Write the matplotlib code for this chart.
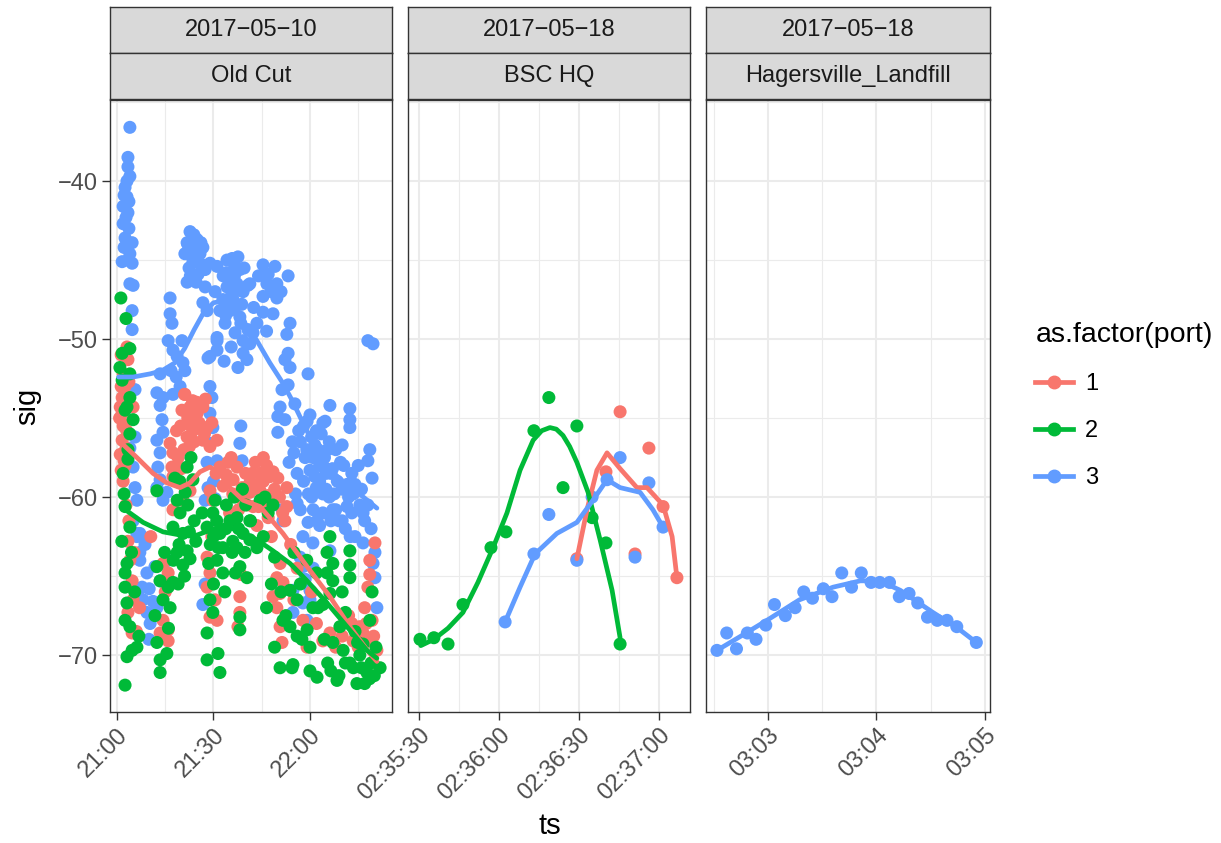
import matplotlib
matplotlib.use('Agg')
import matplotlib.pyplot as plt
from matplotlib.lines import Line2D

plt.rcParams['font.family'] = ['Liberation Sans', 'DejaVu Sans']

RED, GREEN, BLUE = '#F8766D', '#00BA38', '#619CFF'

# ---- panel 1: 2017-05-10 Old Cut, x = minutes after 21:00 ----
p1_red_t = [3.1, 3.4, 1.9, 2.5, 1.6, 3.4, 5.0, 1.0, 1.6, 2.2, 1.6, 3.0, 1.0, 2.5, 1.9, 2.8, 1.3, 3.7, 0.8, 2.2,
            3.4, 4.0, 4.7, 5.0, 3.4, 4.7, 5.3, 2.8, 3.7,
            20.2, 22.7, 24.9, 26.7, 28.0, 23.6, 21.8, 26.7, 28.9, 31.1, 16.5, 17.4, 17.1, 17.4, 19.6, 20.5, 17.4, 22.7,
            21.0, 23.5, 25.5, 22.0, 24.0, 19.0, 18.5, 27.5, 20.0, 29.5, 21.1,
            32.0, 34.5, 37.3, 36.1, 38.9, 39.2, 41.3, 28.9, 29.8, 33.0, 35.5, 40.0, 37.8, 36.5,
            44.5, 47.6, 41.3, 44.5, 42.3, 52.8, 46.0, 43.0, 45.5, 49.0, 50.5, 47.0, 43.5, 51.5,
            50.7, 49.7, 51.6, 50.7, 48.5, 49.7, 50.7, 51.3, 57.8, 59.1, 64.0, 66.2, 74.6, 76.5, 78.6, 80.8, 75.5, 73.4,
            80.2, 78.6, 78.0, 78.6, 79.3, 52.2, 52.8, 54.0, 56.0, 48.0, 60.5, 55.0, 77.0, 72.0, 70.0, 68.0, 62.0,
            28.0, 28.9, 28.0, 30.5, 31.1, 28.9, 29.5, 38.2, 38.2, 37.6, 38.5,
            14.3, 15.9, 14.3, 13.4, 15.9, 15.9, 15.0, 16.5, 7.0, 6.0, 10.5,
            21.5, 23.0, 24.8, 26.0, 27.2, 22.5, 20.8, 19.8, 43.5, 45.5, 47.0, 48.5, 42.0, 40.5, 46.5, 50.0, 44.0,
            34.0, 36.0, 35.0, 30.8, 75.0, 77.5, 79.8, 73.0, 1.3, 2.8, 1.9, 3.0, 1.3]
p1_red_sig = [-50.5, -51.3, -52.2, -53.0, -53.7, -54.1, -54.3, -54.3, -54.7, -55.4, -56.4, -55.8, -57.3, -58.0, -59.0, -56.9, -51.0, -52.7, -55.0, -57.7,
              -62.8, -64.0, -65.3, -66.5, -67.3, -68.6, -63.5, -60.5, -61.5,
              -54.5, -54.3, -54.7, -54.3, -55.6, -55.8, -56.2, -56.4, -56.8, -56.4, -56.6, -57.2, -58.1, -58.7, -59.1, -60.2, -60.8, -59.6,
              -53.5, -53.9, -55.3, -55.0, -56.5, -57.5, -55.8, -53.8, -58.2, -55.3, -53.5,
              -58.1, -57.8, -58.1, -58.9, -59.4, -60.2, -59.7, -59.6, -60.2, -59.3, -57.5, -58.5, -60.8, -61.5,
              -58.5, -58.7, -59.1, -59.6, -60.6, -59.4, -60.6, -57.8, -57.5, -59.5, -60.0, -61.3, -61.8, -61.0,
              -64.2, -65.1, -65.4, -66.1, -66.3, -67.0, -68.2, -69.2, -67.8, -69.5, -69.1, -68.6, -68.4, -68.6, -69.1, -69.7, -68.2, -69.1,
              -62.9, -64.0, -65.7, -64.9, -67.8, -61.5, -60.6, -63.0, -64.5, -62.5, -66.0, -66.5, -67.0, -67.5, -68.8, -69.5, -68.0,
              -63.8, -64.8, -65.7, -66.5, -67.8, -67.6, -62.5, -66.3, -67.3, -68.2, -64.9,
              -64.2, -64.8, -67.8, -68.6, -68.4, -69.1, -66.0, -65.5, -67.0, -68.5, -62.5,
              -54.6, -55.5, -54.0, -55.5, -56.0, -56.8, -57.0, -55.5, -59.2, -59.0, -59.9, -58.4, -58.5, -60.5, -58.0, -58.8, -60.6,
              -58.6, -59.8, -61.0, -58.5, -69.5, -68.0, -68.8, -68.0, -53.0, -54.0, -55.5, -57.0, -58.3]

p1_green_t = [1.2, 2.8, 1.6, 4.0, 0.9, 4.0, 1.6, 4.0, 2.5, 5.0, 3.4, 3.4, 3.1, 4.0, 1.9, 2.2,
              2.5, 4.0, 3.1, 2.5, 2.5, 3.1, 2.5, 4.0, 6.2, 3.1, 2.5, 4.7, 6.8, 5.5, 4.5, 1.5,
              12.4, 13.4, 14.3, 15.9, 17.4, 16.5, 12.4, 13.4, 13.4, 15.5, 11.8, 14.8, 16.0, 17.5,
              21.8, 23.6, 18.7, 19.6, 17.4, 20.5, 21.8, 18.7, 20.5, 22.7, 12.4, 22.0, 24.0, 23.0, 19.5, 21.0, 19.0, 24.5,
              29.8, 28.0, 32.0, 32.9, 31.1, 32.9, 28.9, 29.8, 28.0, 28.0, 31.4, 32.0, 37.3, 39.2, 37.3, 38.2, 40.4, 38.2,
              38.2, 35.1, 34.0, 36.0, 30.5, 26.5, 33.5, 30.0, 40.0, 41.5, 36.5, 39.0,
              44.5, 41.3, 43.5, 41.3, 66.2, 65.3, 67.1, 65.3, 67.1, 66.2, 72.4, 72.4, 72.4, 64.0, 60.9, 59.1, 60.0, 56.0,
              53.8, 51.6, 50.7, 54.7, 62.2, 68.4, 74.6, 77.7, 81.8, 70.3, 72.4, 67.1, 69.3, 53.8, 56.0, 78.6, 79.3, 47.0,
              45.5, 49.0, 48.0, 46.5, 49.0, 52.5, 57.5, 62.5, 64.5, 75.5, 79.0, 80.5, 57.0, 59.0, 62.0, 70.0, 71.0, 74.0,
              76.5, 60.0, 65.5, 77.0, 51.0, 55.0, 54.4, 46.0, 48.5,
              29.0, 30.0, 31.5, 33.8, 35.8, 37.8, 39.8, 31.0, 36.8, 28.5, 76.0, 78.5, 80.0, 73.5, 71.0, 74.8, 69.0, 66.5,
              22.5, 19.3, 18.0, 21.2]
p1_green_sig = [-47.4, -48.7, -50.9, -50.6, -51.8, -52.2, -52.6, -53.7, -54.5, -55.1, -57.0, -57.6, -54.3, -56.0, -58.5, -59.8,
                -60.6, -61.9, -64.2, -64.8, -65.7, -66.7, -67.8, -68.2, -69.5, -70.1, -71.9, -69.7, -68.8, -66.0, -63.5, -62.8,
                -64.4, -65.3, -66.5, -65.7, -65.4, -67.0, -69.2, -70.3, -71.1, -69.9, -67.5, -63.5, -68.3, -64.0,
                -58.1, -58.9, -60.2, -61.0, -61.9, -62.3, -63.4, -63.5, -64.3, -63.9, -59.6, -60.5, -61.5, -57.5, -59.0, -65.0, -65.5, -62.8,
                -61.0, -61.9, -62.3, -63.2, -64.0, -64.8, -66.5, -67.3, -68.6, -70.3, -69.9, -71.1, -61.3, -62.3, -63.2, -64.4, -65.1, -67.6,
                -68.4, -61.5, -60.5, -62.8, -60.2, -61.0, -66.0, -65.5, -60.5, -61.5, -60.0, -59.5,
                -60.2, -61.5, -63.2, -62.7, -62.5, -63.5, -64.2, -64.8, -65.3, -66.1, -63.4, -64.3, -65.1, -66.8, -67.0, -68.4, -69.5, -68.8,
                -68.2, -67.8, -70.8, -70.6, -71.4, -71.6, -71.8, -71.1, -70.8, -69.7, -70.5, -69.2, -68.2, -65.9, -66.5, -67.8, -66.0, -61.0,
                -62.5, -63.8, -65.5, -67.0, -69.5, -67.5, -69.0, -67.0, -69.0, -70.0, -70.5, -69.5, -65.5, -64.0, -64.8, -66.0, -67.3, -68.5,
                -69.3, -71.0, -70.5, -71.8, -66.0, -63.5, -70.8, -60.0, -60.5,
                -63.0, -62.5, -63.2, -62.0, -63.5, -62.0, -63.5, -61.5, -64.8, -64.2, -70.8, -71.5, -71.3, -70.8, -70.5, -69.2, -71.3, -71.0,
                -62.2, -63.0, -58.8, -59.7]

p1_blue_t = [4.0, 3.4, 3.4, 4.0, 2.5, 3.1, 1.9, 3.4, 1.9, 2.5, 4.7, 4.0, 1.6, 4.7, 4.0, 4.7, 4.7, 3.1, 2.2, 3.7, 2.8, 3.7, 2.2, 3.4, 5.0,
             5.6, 5.0, 5.6, 6.2, 5.0, 7.1, 7.1, 5.6, 4.0, 3.4, 6.2, 7.8,
             7.8, 9.3, 8.1, 9.3, 10.3, 11.8, 13.4, 15.9, 6.2, 7.1, 8.7, 10.0, 11.2, 12.4, 6.5, 9.9,
             16.5, 16.5, 17.1, 15.9, 17.4, 18.7, 20.2, 20.5, 21.1, 13.4, 12.4, 14.3, 17.4, 13.4, 14.0, 14.3, 12.4, 13.4, 12.7,
             13.4, 12.4, 14.3, 15.5, 18.4, 19.6, 16.8,
             22.7, 21.8, 24.9, 21.1, 25.8, 23.6, 27.4, 21.8, 28.9, 26.7, 23.0, 24.2, 22.4, 25.2, 23.9, 26.1, 24.6, 26.7, 28.0, 27.4,
             31.1, 34.2, 37.6, 35.1, 38.2, 34.2, 37.3, 40.7, 32.9, 36.1, 32.0, 35.1, 33.6, 38.2, 31.1, 28.9, 28.9, 29.5,
             36.5, 39.2, 33.0, 35.8, 37.0, 34.5, 39.5, 30.5, 36.7, 35.5, 33.3, 39.2, 39.2, 37.6, 40.4, 40.7, 41.3, 38.5,
             31.1, 31.1, 28.3,
             45.4, 49.1, 53.2, 46.6, 49.7, 45.4, 49.7, 41.3, 45.4, 48.5, 43.5, 42.3, 53.8, 52.8, 53.2, 52.2, 53.8, 59.4, 51.3,
             53.2, 50.7, 55.3, 50.0, 52.2, 50.0, 66.2, 72.4, 72.4, 72.4, 59.1, 64.7, 78.6, 79.6, 78.0, 47.0, 51.0, 44.0, 48.0,
             42.5, 46.5,
             61.5, 70.0, 78.0, 79.3, 67.1, 71.5, 76.5, 80.2, 79.6, 80.2, 80.8, 66.2, 59.4, 62.2, 57.8, 60.9, 56.9, 57.8, 54.7,
             57.8, 54.7, 60.0, 60.0, 51.6, 51.3, 56.0, 58.5, 61.0, 60.0, 59.1,
             57.0, 59.0, 61.0, 63.0, 65.0, 60.0, 62.0, 64.0, 66.0, 58.0, 60.5, 63.5, 65.5, 67.0, 68.5, 70.0, 72.0, 69.0, 71.0,
             73.0, 74.0, 75.5, 77.0, 62.0, 58.0, 60.0, 55.0, 56.0, 64.0, 66.5, 61.0, 73.0, 75.0, 68.0, 70.5, 76.0, 78.0, 79.0, 74.0,
             28.9, 29.8, 28.9, 31.1, 28.3, 30.5, 27.4, 26.7, 27.4, 28.0, 30.0, 38.2, 38.9, 38.5,
             58.5, 60.5, 62.5, 64.5, 66.5, 63.0, 65.0, 67.5, 61.5, 59.5, 57.0, 69.5, 71.5, 73.5, 76.5, 66.0, 64.0, 56.5,
             54.5, 53.5, 55.5, 68.0, 70.0, 72.5, 63.0,
             22.0, 23.2, 24.5, 25.5, 22.8, 26.5, 34.0, 35.6, 37.8, 36.5, 33.8, 38.8]
p1_blue_sig = [-36.6, -38.5, -39.1, -39.7, -40.4, -41.0, -41.6, -42.0, -42.7, -43.6, -43.9, -44.6, -45.1, -45.2, -46.5, -48.2, -49.4, -40.0, -40.9, -41.3, -42.3, -43.0, -44.2, -45.0, -46.6,
               -56.2, -58.1, -59.4, -60.2, -61.5, -62.3, -63.5, -53.2, -56.9, -57.8, -62.3, -62.5,
               -65.7, -64.8, -66.5, -67.3, -68.0, -64.4, -65.3, -64.0, -62.5, -64.0, -63.0, -65.8, -66.6, -67.0, -66.0, -69.0,
               -47.4, -48.4, -49.0, -50.1, -50.7, -51.1, -50.1, -51.5, -52.0, -52.2, -53.4, -53.7, -53.5, -54.2, -55.1, -55.9, -56.4, -57.2, -58.1,
               -58.9, -59.4, -60.2, -59.7, -52.4, -53.0, -52.0,
               -43.2, -43.9, -43.7, -44.6, -44.6, -45.1, -45.6, -46.4, -45.2, -44.2, -44.3, -44.9, -45.5, -45.9, -43.4, -43.9, -46.4, -47.7, -48.2, -46.7,
               -45.4, -45.0, -44.8, -46.1, -45.6, -46.7, -46.5, -46.6, -47.5, -47.5, -48.2, -48.2, -49.0, -48.6, -49.9, -51.1, -53.0, -53.7,
               -45.3, -47.0, -46.0, -44.9, -47.9, -47.8, -45.5, -47.0, -49.6, -50.5, -51.4, -50.1, -50.9, -51.8, -51.3, -49.4, -50.3, -49.0,
               -50.1, -50.7, -51.2,
               -45.3, -45.4, -46.0, -46.5, -46.5, -47.3, -47.4, -46.5, -48.3, -48.4, -49.0, -49.6, -49.0, -49.7, -50.9, -51.3, -51.8, -52.2, -53.2,
               -52.9, -54.3, -54.1, -54.9, -55.1, -55.9, -54.2, -54.4, -55.1, -55.6, -55.2, -55.2, -57.0, -50.3, -50.1, -45.9, -47.0, -46.0, -47.0,
               -48.0, -49.5,
               -56.7, -56.7, -57.7, -58.8, -60.8, -60.6, -62.9, -63.5, -64.2, -65.1, -67.0, -63.4, -61.6, -61.5, -62.5, -62.9, -63.8, -64.4, -67.3,
               -66.7, -65.9, -65.9, -66.5, -61.5, -60.8, -60.4, -65.2, -64.5, -68.0, -67.8,
               -56.5, -57.0, -57.5, -58.0, -58.5, -58.3, -59.4, -59.8, -60.0, -59.0, -60.0, -56.0, -57.0, -58.2, -59.0, -59.5, -60.0, -61.5, -62.0,
               -61.0, -59.2, -60.5, -61.5, -55.8, -55.5, -54.8, -57.2, -58.5, -61.0, -61.5, -60.8, -58.5, -58.0, -57.0, -58.0, -59.5, -60.5, -62.0, -62.5,
               -54.7, -55.6, -56.6, -57.7, -59.4, -60.1, -60.2, -66.8, -65.5, -57.8, -59.0, -56.6, -57.7, -55.5,
               -57.5, -56.2, -57.0, -57.5, -58.5, -59.0, -59.5, -59.8, -58.7, -59.8, -60.8, -57.8, -59.2, -59.8, -61.0, -56.5, -55.3, -55.8,
               -56.5, -57.8, -59.8, -60.8, -61.5, -62.5, -61.8,
               -44.0, -44.7, -44.0, -45.2, -46.0, -45.3, -45.8, -47.0, -46.9, -46.0, -48.5, -47.8]

# smooth curves
p1_red_fit_t = [1.5, 6.2, 11.2, 15.5, 19.6, 22.7, 25.8, 28.9, 32.0, 35.1, 39.2, 44.5, 51.6, 59.1, 66.2, 72.4, 78.6, 80.8]
p1_red_fit_sig = [-56.6, -57.5, -58.5, -59.1, -59.4, -59.1, -58.4, -58.1, -58.5, -59.4, -60.2, -60.6, -62.3, -64.4, -66.3, -68.2, -69.9, -70.4]
p1_green_fit_t = [1.9, 8.1, 14.3, 19.6, 24.9, 28.9, 33.5, 38.5, 43.5, 48.5, 53.8, 59.1, 65.3, 71.5, 77.7, 80.8]
p1_green_fit_sig = [-60.7, -61.6, -62.2, -62.4, -62.4, -62.1, -61.8, -62.2, -62.7, -63.4, -64.2, -65.3, -66.7, -68.2, -69.7, -70.2]
p1_blue_fit_t = [0.5, 5.0, 10.3, 14.0, 18.0, 21.0, 24.0, 27.0, 30.0, 33.0, 36.0, 39.0, 43.5, 47.5, 51.6, 54.5, 57.8, 61.0, 64.0, 68.0, 72.0, 76.0, 80.8]
p1_blue_fit_sig = [-52.4, -52.4, -52.2, -52.0, -51.5, -50.6, -49.4, -48.3, -47.7, -47.6, -48.0, -48.8, -50.1, -51.5, -52.8, -53.9, -55.3, -56.6, -57.6, -58.6, -59.3, -59.9, -60.7]

# ---- panel 2: 2017-05-18 BSC HQ, x = seconds after 02:35:30 ----
p2_red_t = [59.2, 70.1, 75.4, 81.0, 86.2, 91.5, 96.7]
p2_red_sig = [-63.9, -58.4, -54.6, -63.6, -56.9, -60.6, -65.1]
p2_green_t = [0.4, 5.6, 10.9, 16.5, 27.0, 32.6, 43.1, 48.7, 54.0, 59.2, 64.9, 70.1, 75.4]
p2_green_sig = [-69.0, -68.9, -69.3, -66.8, -63.2, -62.2, -55.8, -53.7, -59.4, -55.5, -61.3, -62.9, -69.3]
p2_blue_t = [32.3, 43.1, 48.7, 59.2, 64.9, 70.5, 75.4, 81.0, 86.2, 91.5]
p2_blue_sig = [-67.9, -63.6, -61.1, -64.0, -60.0, -58.9, -57.5, -63.8, -59.1, -61.9]

p2_red_fit_t = [59.2, 63.0, 66.7, 70.5, 75.4, 81.7, 85.5, 91.5, 94.9, 96.7]
p2_red_fit_sig = [-63.9, -60.8, -58.3, -57.2, -58.2, -59.4, -59.4, -60.5, -62.5, -65.1]
p2_green_fit_t = [0.7, 5.6, 10.9, 16.5, 22.1, 27.8, 33.0, 37.9, 42.8, 46.0, 49.1, 51.5, 54.0, 56.5, 59.2, 63.4, 67.9, 72.4, 75.4]
p2_green_fit_sig = [-69.4, -69.0, -68.3, -67.3, -65.4, -63.2, -61.0, -58.3, -56.4, -55.8, -55.6, -55.7, -56.1, -56.8, -57.8, -59.7, -62.7, -65.9, -68.9]
p2_blue_fit_t = [32.3, 37.9, 43.5, 51.7, 59.2, 65.2, 70.5, 75.4, 82.9, 87.7, 91.5]
p2_blue_fit_sig = [-67.9, -65.7, -63.6, -62.3, -61.6, -60.2, -58.9, -59.4, -59.7, -60.8, -61.9]

# ---- panel 3: 2017-05-18 Hagersville_Landfill, x = minutes after 03:03 ----
p3_blue_t = [-0.47, -0.38, -0.29, -0.19, -0.11, -0.02, 0.06, 0.16, 0.25, 0.33, 0.41, 0.51, 0.59, 0.68,
             0.77, 0.86, 0.95, 1.03, 1.12, 1.21, 1.30, 1.38, 1.47, 1.56, 1.65, 1.74, 1.92]
p3_blue_sig = [-69.7, -68.6, -69.6, -68.6, -69.0, -68.1, -66.8, -67.5, -67.0, -66.0, -66.4, -65.8, -66.3, -64.8,
               -65.7, -64.8, -65.4, -65.4, -65.4, -66.3, -66.1, -66.7, -67.6, -67.8, -67.8, -68.2, -69.2]
p3_blue_fit_t = [-0.47, -0.25, -0.01, 0.29, 0.60, 0.85, 1.03, 1.22, 1.52, 1.75, 1.92]
p3_blue_fit_sig = [-69.7, -68.8, -67.8, -66.5, -65.7, -65.3, -65.3, -65.9, -67.3, -68.3, -69.2]

panels = [
    dict(title=('2017\u221205\u221210', 'Old Cut'), xlim=(-2.18, 85.5),
         major=[0, 30, 60], minor=[15, 45, 75], labels=['21:00', '21:30', '22:00'],
         pts=[(p1_blue_t, p1_blue_sig, BLUE), (p1_red_t, p1_red_sig, RED), (p1_green_t, p1_green_sig, GREEN)],
         fits=[(p1_red_fit_t, p1_red_fit_sig, RED), (p1_green_fit_t, p1_green_fit_sig, GREEN),
               (p1_blue_fit_t, p1_blue_fit_sig, BLUE)]),
    dict(title=('2017\u221205\u221218', 'BSC HQ'), xlim=(-4.1, 101.6),
         major=[0, 30, 60, 90], minor=[15, 45, 75],
         labels=['02:35:30', '02:36:00', '02:36:30', '02:37:00'],
         pts=[(p2_red_t, p2_red_sig, RED), (p2_green_t, p2_green_sig, GREEN), (p2_blue_t, p2_blue_sig, BLUE)],
         fits=[(p2_red_fit_t, p2_red_fit_sig, RED), (p2_green_fit_t, p2_green_fit_sig, GREEN),
               (p2_blue_fit_t, p2_blue_fit_sig, BLUE)]),
    dict(title=('2017\u221205\u221218', 'Hagersville_Landfill'), xlim=(-0.571, 2.046),
         major=[0, 1, 2], minor=[-0.5, 0.5, 1.5], labels=['03:03', '03:04', '03:05'],
         pts=[(p3_blue_t, p3_blue_sig, BLUE)],
         fits=[(p3_blue_fit_t, p3_blue_fit_sig, BLUE)]),
]

W, H = 1221, 843
fig = plt.figure(figsize=(W / 100, H / 100), dpi=100, facecolor='white')

lefts = [110, 408, 706]
widths = [282, 282, 284]
yticks = [-70, -60, -50, -40]

for i, p in enumerate(panels):
    ax = fig.add_axes([lefts[i] / W, (H - 712) / H, widths[i] / W, 612 / H])
    ax.set_xlim(*p['xlim'])
    ax.set_ylim(-73.6, -34.87)
    for x in p['minor']:
        ax.axvline(x, color='#EBEBEB', lw=0.8, zorder=0)
    for y in [-65, -55, -45, -35]:
        ax.axhline(y, color='#EBEBEB', lw=0.8, zorder=0)
    for x in p['major']:
        ax.axvline(x, color='#EBEBEB', lw=1.5, zorder=0)
    for y in yticks:
        ax.axhline(y, color='#EBEBEB', lw=1.5, zorder=0)
    for t, s, c in p['pts']:
        ax.scatter(t, s, s=88, color=c, edgecolors='none', zorder=2)
    for t, s, c in p['fits']:
        ax.plot(t, s, color=c, lw=3.4, solid_capstyle='round', solid_joinstyle='round', zorder=3)
    ax.set_xticks(p['major'])
    ax.set_xticklabels(p['labels'], rotation=45, ha='right', va='top', rotation_mode='anchor')
    ax.set_yticks(yticks)
    if i == 0:
        ax.set_yticklabels(['\u221270', '\u221260', '\u221250', '\u221240'])
    else:
        ax.set_yticklabels([])
    ax.tick_params(length=5.5, width=1.0, color='#333333', labelcolor='#4D4D4D', labelsize=17, pad=3)
    ax.tick_params(axis='y', length=5.5 if i == 0 else 0)
    for sp in ax.spines.values():
        sp.set_color('#333333')
        sp.set_linewidth(1.0)

    # facet strips
    for k, (top, txt) in enumerate(zip([7, 53], p['title'])):
        sax = fig.add_axes([lefts[i] / W, (H - top - 46) / H, widths[i] / W, 46 / H])
        sax.set_facecolor('#D9D9D9')
        sax.set_xticks([])
        sax.set_yticks([])
        for sp in sax.spines.values():
            sp.set_color('#333333')
            sp.set_linewidth(1.0)
        sax.text(0.5, 0.5, txt, ha='center', va='center', fontsize=17, color='#1A1A1A',
                 transform=sax.transAxes)

fig.text(27 / W, 1 - 406 / H, 'sig', rotation=90, ha='center', va='center', fontsize=21)
fig.text(550 / W, 1 - 826 / H, 'ts', ha='center', va='center', fontsize=21)

handles = [Line2D([0], [0], color=c, lw=3.4, marker='o', markersize=9) for c in (RED, GREEN, BLUE)]
leg = fig.legend(handles, ['1', '2', '3'], title='as.factor(port)', loc='upper left',
                 bbox_to_anchor=(1026 / W, 1 - 313 / H), frameon=False, fontsize=17,
                 title_fontsize=20.5, handlelength=1.6, handletextpad=0.5, labelspacing=1.05,
                 alignment='left', borderaxespad=0)

fig.savefig('out.png', dpi=100, facecolor='white')
